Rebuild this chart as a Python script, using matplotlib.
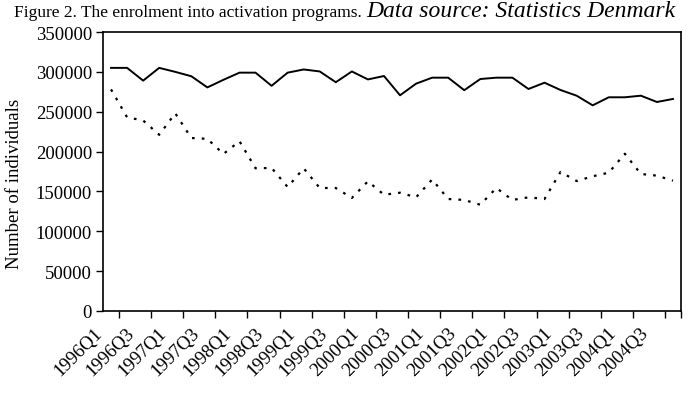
import matplotlib
matplotlib.use("Agg")
import matplotlib.pyplot as plt
import matplotlib.transforms as mtransforms
import numpy as np

plt.rcParams['font.family'] = ['Liberation Serif', 'DejaVu Serif']
plt.rcParams['font.size'] = 13.5

# quarterly data 1996Q1 .. 2004Q4
quarters = [f"{y}Q{q}" for y in range(1996, 2005) for q in range(1, 5)]

total = [305000, 305000, 289000, 305000, 300000, 294500, 280500, 290000,
         299000, 299000, 282500, 299000, 303000, 300500, 287000, 300500,
         290500, 294800, 270600, 285200, 292700, 292700, 277000, 291000,
         292700, 292700, 278500, 286400, 277200, 270100, 258000, 268100,
         268100, 270100, 262200, 266000]

other = [278000, 243000, 239000, 221000, 248000, 217000, 216000, 197000,
         213000, 179000, 179500, 155500, 179000, 154300, 154300, 141800,
         162700, 145900, 148400, 142600, 165000, 140500, 139300, 133300,
         154300, 139300, 142600, 140500, 174500, 163000, 169000, 173500,
         197300, 171900, 169800, 163500]

yticks = np.arange(0, 350001, 50000)

fig = plt.figure(figsize=(6.9, 4.02), dpi=100)
ax = fig.add_axes([103 / 690, 1 - 312 / 402, 578 / 690, 279 / 402])

x = np.arange(len(quarters))
ax.plot(x, total, color='black', linewidth=1.4)
ax.plot(x, other, color='black', linewidth=1.6, linestyle=(0, (1.2, 3.2)))

ax.set_xlim(-0.5, len(quarters) - 0.5)
ax.set_ylim(0, 350000)
ax.set_yticks(yticks)
ax.set_yticklabels([str(v) for v in yticks])

# category ticks between categories, labels on every second quarter
ax.set_xticks(np.arange(-0.5, len(quarters)), minor=True)
ax.set_xticks(x[::2] - 0.5)
ax.set_xticklabels(quarters[::2], rotation=45, ha='right', va='center',
                   rotation_mode='anchor')
ax.tick_params(axis='x', which='major', length=0, pad=14)
ax.tick_params(axis='x', which='minor', length=5, width=1, direction='out')
ax.tick_params(axis='y', length=5, width=1, direction='out', pad=3)
shift = mtransforms.ScaledTranslation(-3 / 100, 0, fig.dpi_scale_trans)
for lab in ax.get_xticklabels():
    lab.set_transform(lab.get_transform() + shift)

for s in ax.spines.values():
    s.set_linewidth(1.2)

ax.set_ylabel("Number of individuals")
ax.yaxis.set_label_coords(-0.138, 0.46)

# title in two styles, the source note set in larger italics
t1 = fig.text(14 / 690, 1 - 17 / 402,
              "Figure 2. The enrolment into activation programs. ",
              ha='left', va='baseline', fontsize=12.5)
fig.canvas.draw()
bb = t1.get_window_extent()
fig.text(bb.x1 / fig.bbox.width, 1 - 17 / 402,
         "Data source: Statistics Denmark", style='italic',
         ha='left', va='baseline', fontsize=17)

fig.savefig("out.png", dpi=100)
